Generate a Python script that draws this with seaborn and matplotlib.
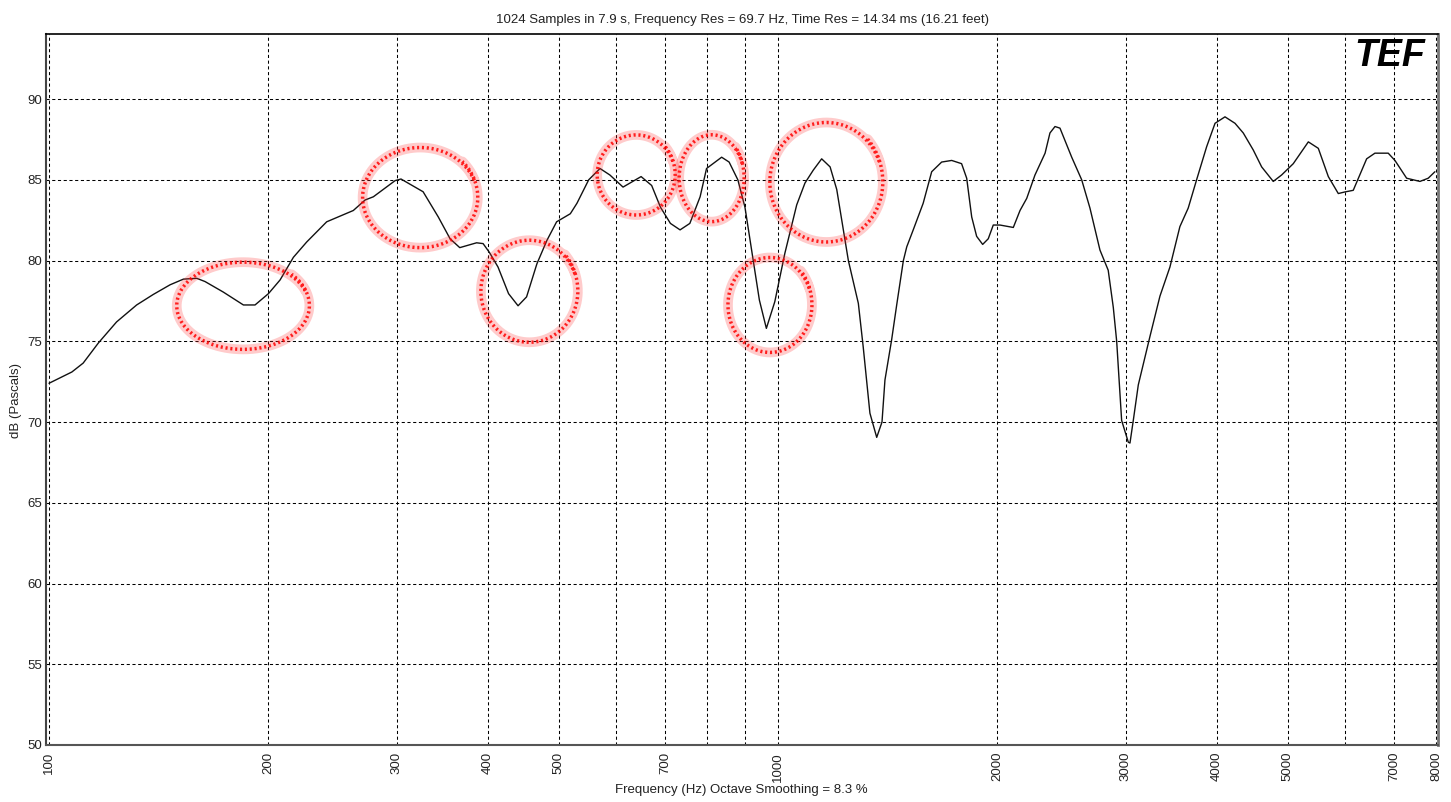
import numpy as np
import pandas as pd
import matplotlib.pyplot as plt
import seaborn as sns
from matplotlib.ticker import FixedLocator, FixedFormatter, NullLocator

# Smoothed frequency response
freq_hz = [100, 107.5, 111.4, 116.9, 123.8, 131.9, 139.0, 146.6, 152.9, 159.5,
           163.7, 173.4, 184.8, 191.7, 200, 207.5, 216.4, 225.7, 240.4, 261.5,
           271.4, 278.6, 298.4, 304, 326, 342, 355, 366, 386, 394,
           402, 413, 427, 440, 452, 467, 482, 497, 519, 530,
           550, 570, 588, 613, 632, 649, 671, 690, 712, 734,
           757, 782, 798, 837, 857, 881, 901, 922, 943, 964,
           990, 1022, 1061, 1089, 1118, 1148, 1179, 1204, 1249, 1289,
           1309, 1337, 1366, 1389, 1402, 1432, 1455, 1486, 1502, 1533,
           1582, 1625, 1677, 1731, 1786, 1815, 1844, 1873, 1909, 1943,
           1974, 2016, 2103, 2148, 2194, 2252, 2325, 2361, 2399, 2437,
           2529, 2610, 2679, 2765, 2838, 2884, 2915, 2961, 3024, 3040,
           3072, 3121, 3238, 3342, 3449, 3559, 3654, 3752, 3873, 3977,
           4104, 4236, 4348, 4487, 4608, 4780, 4908, 5092, 5340, 5511,
           5688, 5870, 5995, 6154, 6420, 6590, 6873, 7020, 7284, 7597,
           7799, 7965]
level_db = [72.4, 73.1, 73.65, 74.9, 76.2, 77.25, 77.9, 78.5, 78.85, 78.9,
            78.7, 78.05, 77.25, 77.25, 77.95, 78.8, 80.2, 81.15, 82.4, 83.1,
            83.75, 83.95, 84.95, 85.05, 84.26, 82.7, 81.35, 80.8, 81.1, 81.05,
            80.5, 79.6, 77.95, 77.2, 77.75, 79.8, 81.25, 82.4, 82.9, 83.55,
            85.0, 85.7, 85.3, 84.55, 84.9, 85.2, 84.65, 83.3, 82.3, 81.9,
            82.3, 83.95, 85.7, 86.4, 86.1, 85.0, 83.3, 80.4, 77.55, 75.8,
            77.45, 80.45, 83.45, 84.8, 85.6, 86.3, 85.8, 84.4, 80.0, 77.35,
            74.65, 70.55, 69.05, 70.0, 72.6, 75.1, 77.25, 80.0, 80.85, 81.9,
            83.55, 85.5, 86.1, 86.2, 86.0, 85.1, 82.7, 81.5, 81.0, 81.35,
            82.2, 82.2, 82.05, 83.1, 83.85, 85.3, 86.65, 87.9, 88.3, 88.2,
            86.4, 85.0, 83.25, 80.65, 79.4, 77.1, 75.0, 70.1, 68.75, 68.7,
            70.1, 72.3, 75.3, 77.8, 79.6, 82.1, 83.25, 85.0, 87.05, 88.5,
            88.9, 88.5, 87.9, 86.85, 85.8, 84.9, 85.3, 86.0, 87.35, 86.95,
            85.2, 84.15, 84.25, 84.35, 86.3, 86.65, 86.65, 86.2, 85.1, 84.9,
            85.1, 85.5]

grid_freqs = [100, 200, 300, 400, 500, 600, 700, 800, 900, 1000,
              2000, 3000, 4000, 5000, 6000, 7000, 8000]
grid_labels = ['100', '200', '300', '400', '500', '', '700', '', '', '1000',
               '2000', '3000', '4000', '5000', '', '7000', '8000']
db_ticks = [50, 55, 60, 65, 70, 75, 80, 85, 90]

# red hand-drawn marks: centre freq, centre dB, half width (decades), half height (dB)
circle_freq = [184.6, 323, 456, 639, 811, 975, 1165]
circle_db = [77.2, 83.9, 78.1, 85.3, 85.1, 77.25, 84.85]
circle_wdec = [0.091, 0.079, 0.0665, 0.0535, 0.0446, 0.0576, 0.0775]
circle_hdb = [2.7, 3.1, 3.16, 2.48, 2.69, 2.94, 3.7]

df = pd.DataFrame({'freq': freq_hz, 'db': level_db})

sns.set_style('white')
plt.rcParams['font.family'] = ['Liberation Sans', 'DejaVu Sans']

fig = plt.figure(figsize=(14.51, 8.02), dpi=100)
ax = fig.add_axes([46 / 1451, 57 / 802, 1392 / 1451, 711 / 802])

sns.lineplot(data=df, x='freq', y='db', ax=ax, color='#111111', linewidth=1.0)
ax.set_xscale('log')
ax.set_xlim(99.06, 8043)
ax.set_ylim(50, 94.03)

ax.xaxis.set_major_locator(FixedLocator(grid_freqs))
ax.xaxis.set_major_formatter(FixedFormatter(grid_labels))
ax.xaxis.set_minor_locator(NullLocator())
ax.set_yticks(db_ticks)
ax.tick_params(axis='x', rotation=90, length=4, width=1, color='#555555',
               pad=1, labelsize=9.5, labelcolor='#222222')
ax.tick_params(axis='y', length=0, pad=3, labelsize=9.5, labelcolor='#222222')
ax.grid(True, color='black', linestyle=(0, (3, 2.5)), linewidth=0.75)

ax.set_xlabel('')
ax.set_ylabel('')
for side, col, lw in [('top', 'black', 1.2), ('left', '#444444', 1.5),
                      ('bottom', '#555555', 1.5), ('right', '#777777', 2.0)]:
    ax.spines[side].set_visible(True)
    ax.spines[side].set_color(col)
    ax.spines[side].set_linewidth(lw)

# red annotation loops
t = np.linspace(0.35, 2 * np.pi + 0.75, 200)
for fc, dc, wd, hd in zip(circle_freq, circle_db, circle_wdec, circle_hdb):
    xs = 10 ** (np.log10(fc) + wd * np.cos(t))
    ys = dc + hd * np.sin(t) * (1 + 0.06 * (t > 2 * np.pi))
    ax.plot(xs, ys, color='#ff3030', linewidth=7, alpha=0.25, solid_capstyle='round')
    ax.plot(xs, ys, color='red', linewidth=2.5, alpha=0.85, linestyle=(0, (0.6, 0.8)))

ax.set_title('1024 Samples in 7.9 s, Frequency Res = 69.7 Hz, Time Res = 14.34 ms (16.21 feet)',
             fontsize=9.5, pad=8, color='#222222')
fig.text(741 / 1451, 1 - 790 / 802, 'Frequency (Hz) Octave Smoothing = 8.3 %',
         ha='center', va='center', fontsize=9.5, color='#222222')
fig.text(16 / 1451, 1 - 400 / 802, 'dB (Pascals)', rotation=90,
         ha='center', va='center', fontsize=9.5, color='#222222')

# TEF logo
ax.text(0.965, 0.969, 'TEF', transform=ax.transAxes, ha='center', va='center',
        fontsize=27, fontweight='heavy', fontstyle='italic', color='black')

fig.savefig('out.png', dpi=100)
